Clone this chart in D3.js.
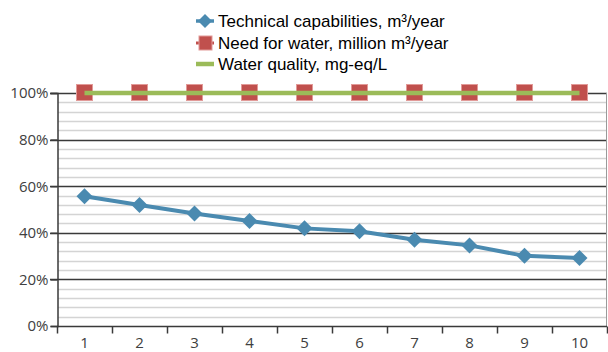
<!DOCTYPE html>
<html><head><meta charset="utf-8">
<script src="https://cdn.jsdelivr.net/npm/d3@7"></script>
<style>
html,body{margin:0;padding:0;background:#fff;}
svg{display:block;}
</style></head>
<body>
<svg id="chart" width="608" height="352"></svg>
<script>
const categories = ["1","2","3","4","5","6","7","8","9","10"];
const technical = [55.7, 51.9, 48.3, 45.1, 41.9, 40.7, 37.0, 34.6, 30.1, 29.2];
const needWater = [100, 100, 100, 100, 100, 100, 100, 100, 100, 100];
const waterQuality = [100, 100, 100, 100, 100, 100, 100, 100, 100, 100];
const yTicks = [0, 20, 40, 60, 80, 100];
const seriesNames = ["Technical capabilities, m³/year", "Need for water, million m³/year", "Water quality, mg-eq/L"];

(function () {
const svg = d3.select("#chart");
const pLeft = 57, pRight = 607, pTop = 93, pBottom = 326;
const x = d3.scaleBand().domain(categories).range([pLeft, pRight]);
const y = d3.scaleLinear().domain([0, 100]).range([pBottom, pTop]);
const cx = d => x(d) + x.bandwidth() / 2;

// minor gridlines
const minor = d3.range(0, 101, 4).filter(v => v % 20 !== 0);
svg.append("g").selectAll("line").data(minor).join("line")
  .attr("x1", pLeft + 1).attr("x2", pRight - 1)
  .attr("y1", d => Math.round(y(d)) + 0.5).attr("y2", d => Math.round(y(d)) + 0.5)
  .attr("stroke", "#d4d4d4").attr("stroke-width", 1.5);

// major gridlines
svg.append("g").selectAll("line").data(yTicks.filter(v => v > 0)).join("line")
  .attr("x1", pLeft - 7).attr("x2", pRight)
  .attr("y1", d => Math.round(y(d)) + 0.5).attr("y2", d => Math.round(y(d)) + 0.5)
  .attr("stroke", "#3a3a3a").attr("stroke-width", 1.5);

// right border
svg.append("line").attr("x1", pRight - 0.5).attr("x2", pRight - 0.5)
  .attr("y1", pTop).attr("y2", pBottom).attr("stroke", "#9a9a9a").attr("stroke-width", 1);

// y axis
const yAxis = svg.append("g").attr("transform", `translate(${pLeft + 0.5},0)`)
  .call(d3.axisLeft(y).tickValues(yTicks).tickFormat(d => d + "%").tickSize(7).tickPadding(2));
yAxis.select(".domain").attr("stroke", "#3a3a3a").attr("stroke-width", 1.5);
yAxis.selectAll(".tick line").attr("stroke", "#3a3a3a").attr("stroke-width", 1.5);
yAxis.selectAll("text").attr("font-family", "Open Sans, sans-serif").attr("font-size", 15).attr("fill", "#404040");

// x axis
const xAxisScale = d3.scalePoint().domain(d3.range(0, categories.length + 1)).range([pLeft, pRight]);
const xAxis = svg.append("g").attr("transform", `translate(0,${pBottom + 0.5})`);
xAxis.append("line").attr("x1", pLeft).attr("x2", pRight).attr("stroke", "#3a3a3a").attr("stroke-width", 1.5);
xAxis.selectAll("line.tk").data(d3.range(0, categories.length + 1)).join("line").attr("class", "tk")
  .attr("x1", d => Math.round(xAxisScale(d)) + 0.5).attr("x2", d => Math.round(xAxisScale(d)) + 0.5)
  .attr("y1", 0).attr("y2", 7).attr("stroke", "#3a3a3a").attr("stroke-width", 1.5);
const xlab = svg.append("g").attr("transform", `translate(0,${pBottom})`)
  .call(d3.axisBottom(x).tickSize(0).tickPadding(11));
xlab.select(".domain").remove();
xlab.selectAll("text").attr("font-family", "Open Sans, sans-serif").attr("font-size", 15).attr("fill", "#404040");

const line = d3.line().x((d, i) => cx(categories[i])).y(d => y(d));

// need for water (red) line + squares
svg.append("path").datum(needWater).attr("d", line).attr("fill", "none")
  .attr("stroke", "#c0504d").attr("stroke-width", 3);
svg.append("g").selectAll("rect").data(needWater).join("rect")
  .attr("x", (d, i) => cx(categories[i]) - 8).attr("y", d => y(d) - 8.5)
  .attr("width", 16).attr("height", 16)
  .attr("fill", "#c0504d").attr("stroke", "#e29a98").attr("stroke-width", 1);

// water quality (green) line
svg.append("path").datum(waterQuality).attr("d", line).attr("fill", "none")
  .attr("stroke", "#9bbb59").attr("stroke-width", 4.5);

// technical (blue) line + diamonds
svg.append("path").datum(technical).attr("d", line).attr("fill", "none")
  .attr("stroke", "#4a8ab0").attr("stroke-width", 4);
svg.append("g").selectAll("path").data(technical).join("path")
  .attr("transform", (d, i) => `translate(${cx(categories[i])},${y(d)})`)
  .attr("d", "M0,-8L8,0L0,8L-8,0Z")
  .attr("fill", "#4a8ab0");

// legend
const leg = svg.append("g");
const rows = [21, 43, 64];
leg.append("line").attr("x1", 196).attr("x2", 214).attr("y1", rows[0]).attr("y2", rows[0]).attr("stroke", "#4a8ab0").attr("stroke-width", 3.5);
leg.append("path").attr("d", `M205,${rows[0]-7}L212,${rows[0]}L205,${rows[0]+7}L198,${rows[0]}Z`).attr("fill", "#4a8ab0");
leg.append("line").attr("x1", 196).attr("x2", 214).attr("y1", rows[1]).attr("y2", rows[1]).attr("stroke", "#c0504d").attr("stroke-width", 3);
leg.append("rect").attr("x", 199).attr("y", rows[1] - 7).attr("width", 13).attr("height", 14).attr("fill", "#c0504d").attr("stroke", "#e29a98");
leg.append("line").attr("x1", 196).attr("x2", 214).attr("y1", rows[2]).attr("y2", rows[2]).attr("stroke", "#9bbb59").attr("stroke-width", 4.5);
leg.selectAll("text").data(seriesNames).join("text")
  .attr("x", 218).attr("y", (d, i) => rows[i]).attr("dy", "0.35em")
  .attr("font-family", "Liberation Sans, Arial, sans-serif").attr("font-size", 17).attr("fill", "#000")
  .text(d => d);
})();
</script>
</body></html>
